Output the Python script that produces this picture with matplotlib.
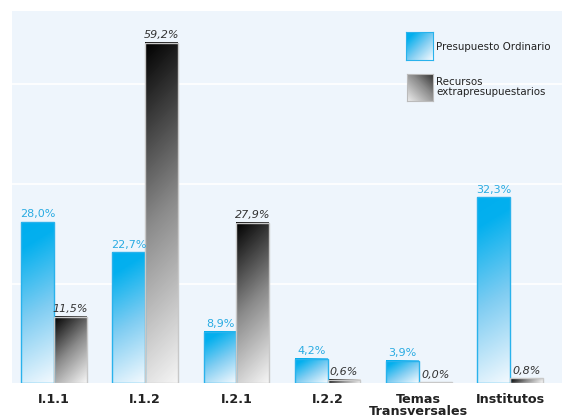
import numpy as np
import matplotlib
matplotlib.use("Agg")
import matplotlib.pyplot as plt
from matplotlib.colors import LinearSegmentedColormap
from matplotlib.patches import Rectangle

categories = ["I.1.1", "I.1.2", "I.2.1", "I.2.2", "Temas\nTransversales", "Institutos"]
presupuesto = [28.0, 22.7, 8.9, 4.2, 3.9, 32.3]
extra = [11.5, 59.2, 27.9, 0.6, 0.0, 0.8]
series_names = ["Presupuesto Ordinario", "Recursos\nextrapresupuestarios"]

W, H = 562, 419
AX_W, AX_H = 550, 372
fig = plt.figure(figsize=(W / 100, H / 100), dpi=100)
ax = fig.add_axes([12 / W, 36 / H, AX_W / W, AX_H / H])
ax.set_facecolor("#EEF5FC")

ymax = 64.7
xmin, xmax = -0.46, 5.57
ax.set_ylim(0, ymax)
ax.set_xlim(xmin, xmax)
for s in ax.spines.values():
    s.set_visible(False)
ax.set_yticks([])
ax.tick_params(axis="x", length=0, pad=7)
ax.set_xticks(range(len(categories)))
ax.set_xticklabels(categories, fontsize=9.2, fontweight="bold", color="#222222",
                   linespacing=0.95)

for g in (17.2, 34.6, 52.0):
    ax.axhline(g, color="white", lw=1.2, zorder=1)

blue_cmap = LinearSegmentedColormap.from_list(
    "blue", [(0, "#00AEEF"), (0.15, "#04B0EE"), (0.55, "#80CDF2"), (1, "#F3F9FE")])
gray_cmap = LinearSegmentedColormap.from_list(
    "gray", [(0, "#000000"), (0.5, "#8A8A8A"), (1, "#F5F5F5")])

px_per_x = AX_W / (xmax - xmin)
px_per_y = AX_H / ymax
width = 0.36


def diag_gradient(wpx, hpx, xw=1.0):
    """Diagonal ramp in pixel space: 0 at top-left, 1 at bottom-right."""
    nx = max(int(round(wpx)), 2)
    ny = max(int(round(hpx)), 2)
    xx, yy = np.meshgrid(np.linspace(0, wpx, nx), np.linspace(0, hpx, ny))
    return (xw * xx + yy) / (xw * wpx + hpx)


def gradient_bar(x0, x1, h, cmap, edge, xw):
    if h > 0:
        grad = diag_gradient((x1 - x0) * px_per_x, h * px_per_y, xw)
        ax.imshow(grad, cmap=cmap, vmin=0, vmax=1, extent=(x0, x1, 0, h),
                  aspect="auto", origin="upper", zorder=2, interpolation="bilinear")
    ax.add_patch(Rectangle((x0, 0), x1 - x0, max(h, 0.12), fill=False,
                           edgecolor=edge, lw=1.0, zorder=3))


for i, (p, e) in enumerate(zip(presupuesto, extra)):
    gradient_bar(i - width, i, p, blue_cmap, "#29B2EC", 0.6)
    gradient_bar(i, i + width, e, gray_cmap, "#C8C8C8", 1.0)
    ax.annotate(f"{p:.1f}%".replace(".", ","), (i - width / 2, p),
                xytext=(0, 2), textcoords="offset points", ha="center", va="bottom",
                fontsize=8, color="#29ABE2")
    ax.annotate(f"{e:.1f}%".replace(".", ","), (i + width / 2, e),
                xytext=(0, 2), textcoords="offset points", ha="center", va="bottom",
                fontsize=8, color="#333333", style="italic")

# legend swatches
lg_ax1 = fig.add_axes([406 / W, 1 - 60 / H, 27 / W, 28 / H])
lg_ax1.imshow(diag_gradient(27, 28), cmap=blue_cmap, vmin=0, vmax=1, aspect="auto")
lg_ax2 = fig.add_axes([407 / W, 1 - 101 / H, 26 / W, 27 / H])
lg_ax2.imshow(np.fliplr(diag_gradient(26, 27)) * 0.75 + 0.2, cmap=gray_cmap,
              vmin=0, vmax=1, aspect="auto")
for la, ec in ((lg_ax1, "#29B2EC"), (lg_ax2, "#BBBBBB")):
    la.set_xticks([])
    la.set_yticks([])
    for s in la.spines.values():
        s.set_color(ec)

fig.text(436 / W, 1 - 47 / H, series_names[0], fontsize=7.4, color="#222222",
         va="center", ha="left")
fig.text(436 / W, 1 - 87 / H, series_names[1], fontsize=7.4, color="#222222",
         va="center", ha="left", linespacing=0.95)

fig.savefig("out.png", dpi=100)
